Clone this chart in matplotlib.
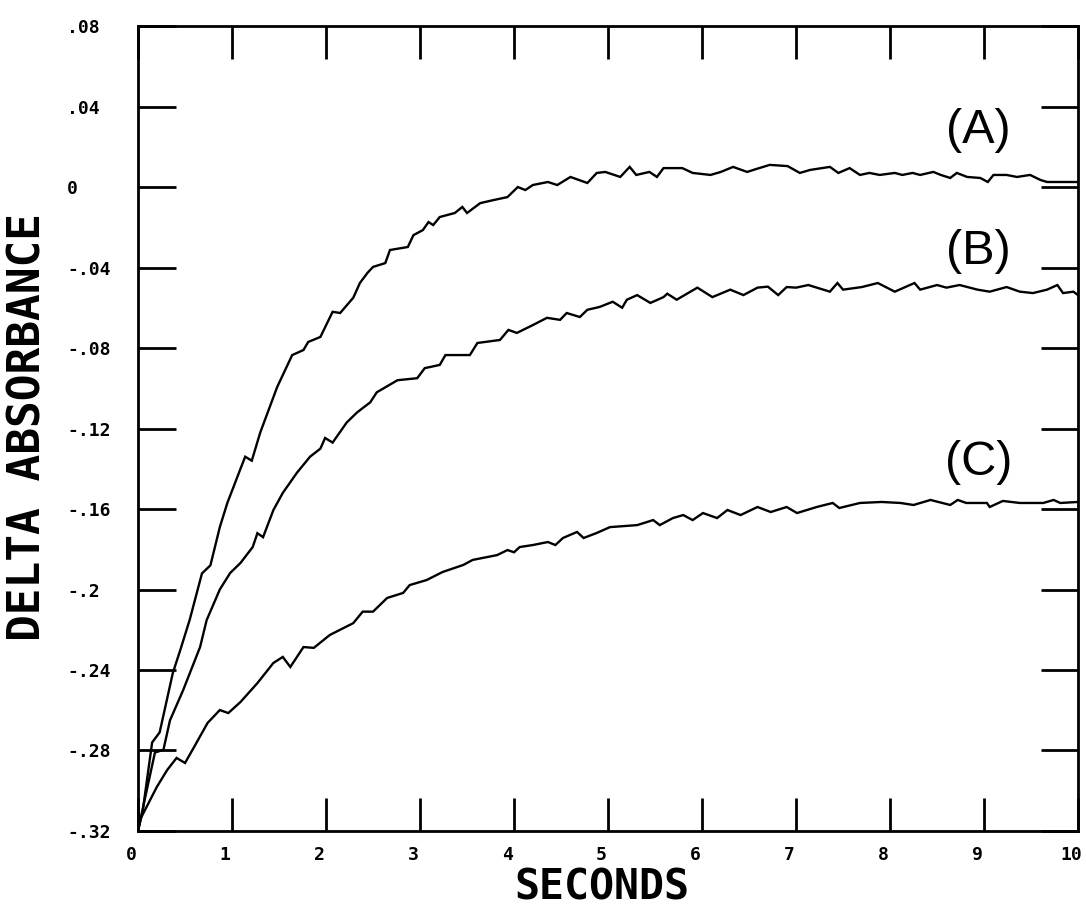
import matplotlib.pyplot as plt
from matplotlib.transforms import ScaledTranslation

# traces (seconds, delta absorbance)
sec_A = [0.0, 0.05, 0.15, 0.23, 0.37, 0.45, 0.55, 0.68, 0.77, 0.87, 0.95, 1.09, 1.14, 1.21, 1.30,
         1.48, 1.64, 1.76, 1.81, 1.94, 2.07, 2.15, 2.29, 2.36, 2.44, 2.50, 2.63, 2.68, 2.87, 2.93,
         3.03, 3.09, 3.14, 3.21, 3.37, 3.45, 3.50, 3.64, 3.78, 3.93, 4.04, 4.12, 4.20, 4.36, 4.46,
         4.60, 4.78, 4.88, 4.97, 5.13, 5.23, 5.30, 5.44, 5.52, 5.59, 5.79, 5.90, 6.09, 6.20, 6.33,
         6.48, 6.58, 6.72, 6.91, 7.04, 7.15, 7.36, 7.45, 7.57, 7.68, 7.78, 7.89, 8.05, 8.13, 8.24,
         8.32, 8.46, 8.54, 8.64, 8.71, 8.82, 8.96, 9.04, 9.10, 9.24, 9.35, 9.49, 9.60, 9.67, 9.80, 10.0]
abs_A = [-0.320, -0.310, -0.276, -0.271, -0.2415, -0.230, -0.215, -0.192, -0.188, -0.169, -0.157,
         -0.140, -0.134, -0.136, -0.122, -0.0994, -0.0835, -0.081, -0.077, -0.0745, -0.062, -0.0626,
         -0.055, -0.0477, -0.0427, -0.0397, -0.0378, -0.0313, -0.0298, -0.0239, -0.0214, -0.0174,
         -0.0189, -0.0149, -0.0129, -0.0099, -0.0129, -0.008, -0.0065, -0.005, 0.000, -0.0015, 0.001,
         0.0025, 0.001, 0.005, 0.002, 0.007, 0.0075, 0.005, 0.010, 0.006, 0.0075, 0.005, 0.0094,
         0.0094, 0.007, 0.006, 0.0075, 0.010, 0.0075, 0.009, 0.011, 0.0104, 0.007, 0.0085, 0.010,
         0.007, 0.0094, 0.006, 0.007, 0.006, 0.007, 0.006, 0.007, 0.006, 0.0075, 0.006, 0.0045,
         0.007, 0.005, 0.0045, 0.0025, 0.006, 0.006, 0.005, 0.006, 0.0035, 0.0025, 0.0025, 0.0025]

sec_B = [0.0, 0.07, 0.18, 0.27, 0.34, 0.48, 0.66, 0.73, 0.87, 0.98, 1.09, 1.22, 1.27, 1.33, 1.44,
         1.54, 1.69, 1.83, 1.94, 1.99, 2.07, 2.22, 2.33, 2.47, 2.54, 2.76, 2.97, 3.05, 3.21, 3.27,
         3.53, 3.61, 3.85, 3.94, 4.03, 4.20, 4.35, 4.49, 4.56, 4.70, 4.78, 4.91, 5.05, 5.15, 5.20,
         5.31, 5.45, 5.59, 5.63, 5.73, 5.95, 6.11, 6.30, 6.44, 6.59, 6.70, 6.81, 6.90, 7.00, 7.13,
         7.36, 7.44, 7.50, 7.70, 7.87, 8.05, 8.26, 8.32, 8.50, 8.60, 8.74, 8.93, 9.06, 9.24, 9.38,
         9.52, 9.67, 9.78, 9.84, 9.95, 10.0]
abs_B = [-0.320, -0.3046, -0.281, -0.2797, -0.265, -0.250, -0.2286, -0.2152, -0.200, -0.1918,
         -0.1868, -0.1789, -0.172, -0.174, -0.1605, -0.152, -0.142, -0.134, -0.130, -0.1247, -0.127,
         -0.117, -0.112, -0.107, -0.102, -0.096, -0.095, -0.090, -0.0884, -0.0835, -0.0835, -0.0775,
         -0.076, -0.071, -0.0725, -0.0686, -0.065, -0.066, -0.0626, -0.0646, -0.061, -0.0596, -0.057,
         -0.060, -0.056, -0.0537, -0.0576, -0.0547, -0.053, -0.056, -0.050, -0.0547, -0.051, -0.0537,
         -0.050, -0.0495, -0.0537, -0.0497, -0.050, -0.0487, -0.052, -0.0477, -0.051, -0.0497,
         -0.0477, -0.052, -0.0477, -0.051, -0.0487, -0.050, -0.0487, -0.051, -0.052, -0.0497, -0.052,
         -0.0527, -0.051, -0.0487, -0.0527, -0.052, -0.0537]

sec_C = [0.0, 0.02, 0.20, 0.31, 0.41, 0.50, 0.59, 0.74, 0.87, 0.96, 1.09, 1.27, 1.44, 1.54, 1.62,
         1.76, 1.87, 2.04, 2.29, 2.39, 2.50, 2.65, 2.82, 2.89, 3.07, 3.24, 3.46, 3.56, 3.82, 3.93,
         4.00, 4.06, 4.20, 4.36, 4.44, 4.52, 4.67, 4.74, 4.88, 5.02, 5.31, 5.48, 5.55, 5.69, 5.80,
         5.90, 6.01, 6.16, 6.27, 6.41, 6.59, 6.73, 6.90, 7.01, 7.22, 7.39, 7.46, 7.68, 7.91, 8.11,
         8.25, 8.43, 8.64, 8.72, 8.81, 9.03, 9.06, 9.20, 9.38, 9.63, 9.74, 9.81, 10.0]
abs_C = [-0.320, -0.3145, -0.2981, -0.2897, -0.2837, -0.2862, -0.2788, -0.2663, -0.2599, -0.2614,
         -0.2559, -0.2465, -0.2365, -0.2335, -0.2385, -0.2286, -0.229, -0.2226, -0.2167, -0.211,
         -0.211, -0.2042, -0.2017, -0.1978, -0.1953, -0.1913, -0.1878, -0.1853, -0.1829, -0.1804,
         -0.1815, -0.1789, -0.1779, -0.1764, -0.1779, -0.1744, -0.1714, -0.1744, -0.1719, -0.169,
         -0.168, -0.1655, -0.168, -0.1645, -0.163, -0.1655, -0.162, -0.1645, -0.1605, -0.163, -0.159,
         -0.1615, -0.159, -0.162, -0.159, -0.157, -0.1595, -0.157, -0.1565, -0.157, -0.158, -0.1555,
         -0.158, -0.1555, -0.157, -0.157, -0.159, -0.156, -0.157, -0.157, -0.1555, -0.157, -0.1565]

xticks = list(range(11))
yticks = [0.08, 0.04, 0.0, -0.04, -0.08, -0.12, -0.16, -0.2, -0.24, -0.28, -0.32]
ytick_labels = ['.08', '.04', '0', '-.04', '-.08', '-.12', '-.16', '-.2', '-.24', '-.28', '-.32']
curve_names = ['(A)', '(B)', '(C)']

fig = plt.figure(figsize=(10.86, 9.07), dpi=100)
ax = fig.add_axes([0.1271, 0.0838, 0.8656, 0.8875])

for sx, sy in [(sec_A, abs_A), (sec_B, abs_B), (sec_C, abs_C)]:
    ax.plot(sx, sy, color='black', lw=1.7, solid_joinstyle='miter')

ax.set_xlim(0, 10)
ax.set_ylim(-0.32, 0.08)
ax.set_xticks(xticks, [str(t) for t in xticks])
ax.set_yticks(yticks, ytick_labels)

for sp in ax.spines.values():
    sp.set_linewidth(2)
ax.tick_params(axis='y', direction='in', length=27, width=2, left=True, right=True, pad=51)
ax.tick_params(axis='x', direction='in', length=24, width=2, top=True, bottom=True, pad=11)
for lab in ax.get_yticklabels():
    lab.set_horizontalalignment('left')
# x labels sit a bit left of their ticks on the original
shift = ScaledTranslation(-7 / 100, 0, fig.dpi_scale_trans)
for lab in ax.get_xticklabels():
    lab.set_transform(lab.get_transform() + shift)
for lab in ax.get_xticklabels() + ax.get_yticklabels():
    lab.set_family('DejaVu Sans Mono')
    lab.set_fontweight('bold')
    lab.set_fontsize(13)

# curve tags
ax.text(8.94, 0.028, curve_names[0], fontsize=35, family='Liberation Sans', ha='center', va='center')
ax.text(8.94, -0.032, curve_names[1], fontsize=35, family='Liberation Sans', ha='center', va='center')
ax.text(8.94, -0.137, curve_names[2], fontsize=35, family='Liberation Sans', ha='center', va='center')

fig.text(28 / 1086, 1 - 427 / 907, 'DELTA ABSORBANCE', rotation=90, ha='center', va='center',
         family='DejaVu Sans Mono', fontweight='bold', fontsize=32)
fig.text(602 / 1086, 1 - 888 / 907, 'SECONDS', ha='center', va='center',
         family='DejaVu Sans Mono', fontweight='bold', fontsize=30)

fig.savefig('out.png', dpi=100)
